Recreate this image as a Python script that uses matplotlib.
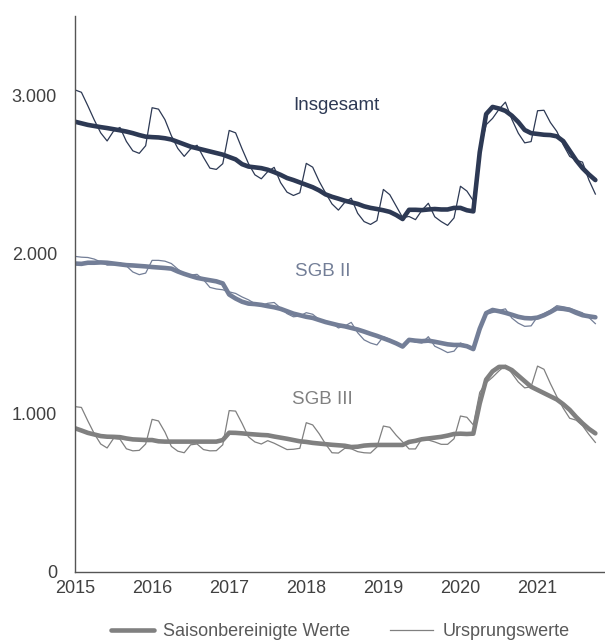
import numpy as np
import matplotlib.pyplot as plt

plt.rcParams['font.family'] = ['Liberation Sans', 'DejaVu Sans']

# Monatswerte Jan 2015 - Okt 2021, in Tausend
jahre = ['2015', '2016', '2017', '2018', '2019', '2020', '2021']

gesamt_orig = [3032, 3017, 2932, 2843, 2762, 2711, 2773, 2796, 2708, 2649, 2633, 2681,
               2920, 2911, 2845, 2744, 2664, 2614, 2661, 2684, 2608, 2540, 2532, 2568,
               2777, 2762, 2662, 2569, 2498, 2473, 2518, 2545, 2449, 2389, 2368, 2385,
               2570, 2546, 2458, 2384, 2315, 2276, 2325, 2351, 2256, 2204, 2186, 2210,
               2406, 2373, 2301, 2229, 2236, 2216, 2275, 2319, 2234, 2204, 2180, 2227,
               2426, 2396, 2335, 2644, 2813, 2853, 2910, 2955, 2847, 2760, 2699, 2707,
               2901, 2904, 2827, 2771, 2687, 2614, 2590, 2578, 2465, 2377]
gesamt_sa = [2832, 2822, 2812, 2805, 2798, 2792, 2785, 2778, 2770, 2760, 2748, 2738,
             2735, 2733, 2728, 2720, 2705, 2690, 2675, 2665, 2655, 2645, 2635, 2625,
             2610, 2595, 2565, 2550, 2545, 2540, 2530, 2515, 2498, 2478, 2465, 2450,
             2435, 2420, 2400, 2375, 2360, 2348, 2335, 2325, 2315, 2300, 2290, 2283,
             2275, 2265, 2245, 2220, 2278, 2278, 2276, 2280, 2283, 2280, 2280, 2290,
             2290, 2275, 2268, 2640, 2880, 2925, 2915, 2900, 2870, 2830, 2780, 2760,
             2755, 2750, 2748, 2740, 2710, 2650, 2590, 2540, 2500, 2465]

sgb2_orig = [1985, 1980, 1978, 1968, 1950, 1930, 1932, 1945, 1925, 1887, 1870, 1880,
             1960, 1960, 1955, 1940, 1905, 1875, 1868, 1872, 1838, 1790, 1780, 1775,
             1762, 1752, 1730, 1712, 1688, 1675, 1690, 1695, 1660, 1625, 1605, 1610,
             1631, 1621, 1588, 1579, 1565, 1535, 1547, 1570, 1505, 1460, 1440, 1428,
             1480, 1463, 1441, 1411, 1462, 1445, 1440, 1480, 1420, 1401, 1380, 1389,
             1440, 1423, 1410, 1514, 1623, 1632, 1645, 1655, 1597, 1565, 1545, 1548,
             1606, 1625, 1645, 1675, 1668, 1660, 1645, 1630, 1600, 1562]
sgb2_sa = [1940, 1938, 1945, 1945, 1947, 1945, 1940, 1935, 1930, 1928, 1925, 1922,
           1918, 1915, 1912, 1908, 1890, 1875, 1862, 1850, 1842, 1835, 1828, 1815,
           1745, 1720, 1700, 1688, 1685, 1680, 1672, 1665, 1655, 1640, 1625, 1615,
           1605, 1598, 1585, 1572, 1562, 1552, 1545, 1535, 1525, 1512, 1498, 1485,
           1470, 1455, 1438, 1418, 1460, 1455, 1452, 1455, 1448, 1440, 1432, 1428,
           1428, 1420, 1402, 1530, 1628, 1648, 1640, 1630, 1618, 1605, 1597, 1595,
           1600, 1615, 1635, 1658, 1655, 1648, 1630, 1615, 1608, 1602]

sgb3_orig = [1040, 1035, 950, 870, 805, 780, 840, 835, 775, 762, 765, 805,
             960, 950, 880, 790, 760, 750, 800, 805, 770, 762, 763, 800,
             1015, 1012, 935, 850, 818, 805, 826, 810, 790, 770, 772, 778,
             939, 925, 870, 805, 750, 748, 778, 775, 757, 750, 748, 786,
             918, 910, 860, 818, 774, 774, 838, 830, 818, 803, 803, 838,
             981, 973, 925, 1130, 1190, 1225, 1265, 1300, 1250, 1195, 1158, 1165,
             1295, 1275, 1185, 1103, 1030, 967, 955, 920, 865, 815]
sgb3_sa = [904, 890, 875, 865, 855, 851, 850, 848, 840, 834, 832, 830,
           830, 822, 820, 820, 820, 820, 820, 820, 820, 820, 820, 830,
           876, 875, 872, 868, 865, 862, 860, 852, 845, 838, 830, 822,
           818, 812, 808, 804, 800, 797, 794, 786, 788, 795, 798, 799,
           799, 799, 799, 799, 818, 825, 835, 840, 845, 850, 858, 868,
           870, 868, 870, 1060, 1210, 1262, 1290, 1290, 1270, 1235, 1200, 1165,
           1145, 1125, 1105, 1085, 1055, 1020, 975, 935, 900, 872]

navy = '#2d3954'
slate = '#737e97'
grau = '#808080'

monate = np.arange(len(gesamt_orig))

fig = plt.figure(figsize=(6.05, 6.42), dpi=100)
ax = fig.add_axes([75/605, 70/642, 530/605, 556.5/642])

for orig, sa, farbe in [(gesamt_orig, gesamt_sa, navy),
                        (sgb2_orig, sgb2_sa, slate),
                        (sgb3_orig, sgb3_sa, grau)]:
    ax.plot(monate, sa, color=farbe, lw=3.3, solid_capstyle='round', solid_joinstyle='round')
    ax.plot(monate, orig, color=farbe, lw=0.9)

ax.text(40.7, 2931, 'Insgesamt', color=navy, fontsize=13.5, ha='center', va='center')
ax.text(38.5, 1887, 'SGB II', color=slate, fontsize=13.5, ha='center', va='center')
ax.text(38.5, 1082, 'SGB III', color=grau, fontsize=13.5, ha='center', va='center')

ax.set_xlim(0, 82.5)
ax.set_ylim(0, 3500)
ax.set_xticks(np.arange(0, 84, 12))
ax.set_xticklabels(jahre)
ax.set_yticks([0, 1000, 2000, 3000])
ax.set_yticklabels(['0', '1.000', '2.000', '3.000'])
ax.tick_params(length=0, labelsize=13, colors='#404040')
ax.tick_params(axis='y', pad=13)
ax.tick_params(axis='x', pad=6)
for s in ['top', 'right']:
    ax.spines[s].set_visible(False)
for s in ['left', 'bottom']:
    ax.spines[s].set_color('#555555')
    ax.spines[s].set_linewidth(1.0)

h1, = ax.plot([], [], color=grau, lw=3.3, solid_capstyle='round')
h2, = ax.plot([], [], color=grau, lw=0.9)
fig.legend([h1, h2], ['Saisonbereinigte Werte', 'Ursprungswerte'],
           loc='center', bbox_to_anchor=(340/605, 10/642), ncol=2, frameon=False,
           fontsize=13, handlelength=2.4, handletextpad=0.5, columnspacing=2.2,
           labelcolor='#595959')

fig.savefig('out.png', dpi=100)
